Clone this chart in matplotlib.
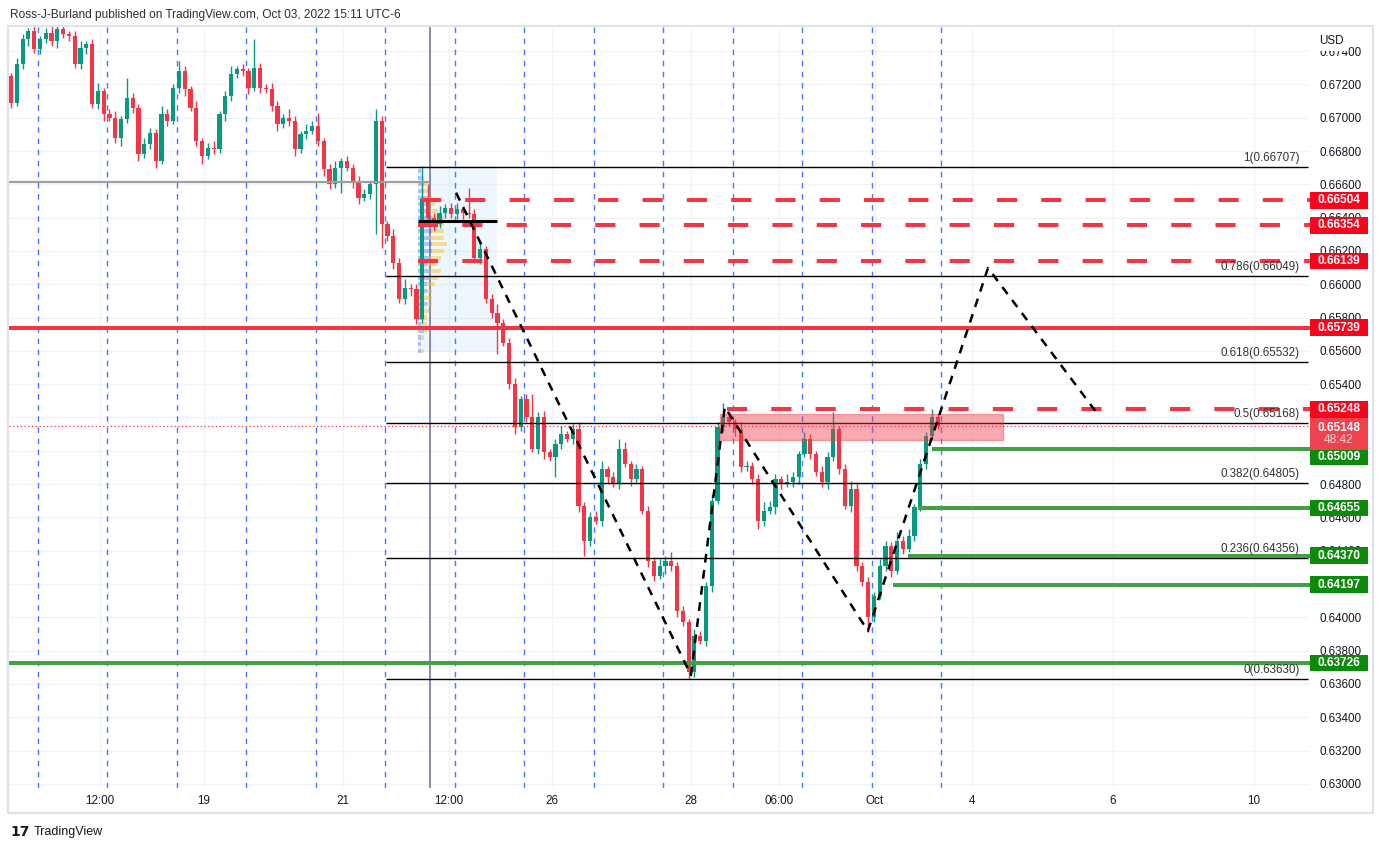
import numpy as np
import matplotlib.pyplot as plt
from matplotlib import transforms
from matplotlib.patches import Rectangle

plt.rcParams['font.family'] = ['Liberation Sans', 'DejaVu Sans']

# AUDUSD, 2h candles (x axis counts hours)
bar_hours = 2
first_open = 0.6725
closes = [
    0.6709, 0.6732, 0.6747, 0.6752, 0.6741, 0.6747, 0.6751, 0.6746, 0.6753, 0.6750,
    0.6749, 0.6732, 0.6742, 0.6744, 0.6708, 0.6716, 0.6702, 0.6700, 0.6688, 0.6699,
    0.6712, 0.6706, 0.6678, 0.6684, 0.6691, 0.6674, 0.6702, 0.6698, 0.6718, 0.6728,
    0.6717, 0.6706, 0.6686, 0.6677, 0.6682, 0.6681, 0.6702, 0.6713, 0.6726, 0.6729,
    0.6728, 0.6718, 0.6730, 0.6718, 0.6717, 0.6707, 0.6696, 0.6700, 0.6698, 0.6681,
    0.6690, 0.6692, 0.6695, 0.6686, 0.6669, 0.6660, 0.6670, 0.6674, 0.6670, 0.6661,
    0.6652, 0.6654, 0.6660, 0.6698, 0.6636, 0.6629, 0.6613, 0.6591, 0.6598, 0.6597,
    0.6579, 0.6651, 0.6640, 0.6636, 0.6643, 0.6646, 0.6642, 0.6645, 0.6643, 0.6642,
    0.6616, 0.6621, 0.6591, 0.6583, 0.6577, 0.6565, 0.6540, 0.6514, 0.6531, 0.6520,
    0.6501, 0.6520, 0.6499, 0.6496, 0.6504, 0.6510, 0.6507, 0.6513, 0.6467, 0.6446,
    0.6460, 0.6458, 0.6489, 0.6484, 0.6480, 0.6501, 0.6492, 0.6483, 0.6489, 0.6464,
    0.6434, 0.6425, 0.6431, 0.6434, 0.6431, 0.6404, 0.6397, 0.6367, 0.6389, 0.6386,
    0.6419, 0.6470, 0.6514, 0.6520, 0.6517, 0.6513, 0.6490, 0.6491, 0.6483, 0.6458,
    0.6464, 0.6466, 0.6483, 0.6480, 0.6481, 0.6484, 0.6498, 0.6507, 0.6498, 0.6487,
    0.6481, 0.6496, 0.6513, 0.6489, 0.6467, 0.6477, 0.6431, 0.6421, 0.6400, 0.6413,
    0.6431, 0.6443, 0.6428, 0.6446, 0.6441, 0.6449, 0.6466, 0.6492, 0.6509, 0.6520,
    0.65148,
]
# wick lengths beyond the body, in pips
wick_up = [
    2, 4, 3, 2, 3, 2, 3, 4, 2, 3,
    2, 3, 4, 2, 3, 5, 2, 3, 4, 2,
    12, 3, 2, 4, 3, 2, 5, 3, 2, 6,
    3, 2, 4, 2, 3, 4, 2, 3, 5, 2,
    3, 2, 17, 3, 2, 4, 3, 2, 5, 3,
    2, 4, 3, 8, 2, 3, 4, 2, 3, 2,
    4, 3, 2, 7, 3, 2, 4, 3, 5, 2,
    3, 20, 9, 3, 4, 2, 3, 4, 2, 15,
    3, 4, 2, 3, 5, 2, 3, 4, 2, 3,
    14, 3, 4, 2, 3, 5, 2, 3, 4, 2,
    3, 4, 5, 2, 3, 6, 4, 2, 3, 2,
    3, 2, 4, 3, 5, 2, 3, 2, 4, 3,
    2, 4, 3, 9, 3, 2, 4, 3, 2, 3,
    5, 4, 3, 2, 5, 3, 2, 4, 3, 2,
    4, 3, 10, 2, 3, 5, 4, 2, 3, 2,
    4, 3, 2, 5, 3, 4, 2, 3, 2, 5,
    2,
]
wick_dn = [
    3, 2, 3, 4, 2, 3, 2, 3, 4, 2,
    3, 2, 3, 4, 2, 3, 4, 2, 3, 5,
    2, 3, 4, 2, 3, 4, 2, 3, 2, 3,
    4, 2, 3, 5, 2, 3, 2, 4, 3, 2,
    3, 4, 2, 3, 2, 3, 4, 2, 3, 4,
    2, 3, 2, 3, 4, 3, 2, 15, 2, 3,
    4, 2, 3, 30, 14, 3, 4, 2, 3, 4,
    3, 2, 3, 4, 2, 3, 2, 3, 4, 2,
    3, 4, 2, 3, 19, 2, 3, 4, 2, 3,
    2, 3, 4, 2, 12, 3, 2, 3, 4, 9,
    3, 2, 3, 4, 2, 3, 2, 4, 3, 2,
    4, 3, 2, 5, 3, 4, 2, 4, 3, 2,
    3, 4, 2, 3, 2, 4, 3, 2, 3, 5,
    3, 2, 4, 3, 2, 3, 4, 2, 3, 2,
    3, 4, 2, 3, 2, 4, 3, 2, 9, 3,
    2, 3, 4, 2, 3, 2, 3, 2, 3, 2,
    2,
]

# time axis (hour index)
tick_hours = [30.7, 66.6, 114.6, 151.2, 186.8, 234.8, 265.2, 298.3, 331.8, 380.5, 429.2]
tick_labels = ['12:00', '19', '21', '12:00', '26', '28', '06:00', 'Oct', '4', '6', '10']
session_hours = [9.3 + 24 * k for k in range(14)]
marker_hour = 144.7

# drawings
red_dashed = [0.66504, 0.66354, 0.66139, 0.65248]
red_dashed_from = [141.6, 140.5, 140.5, 247.2]
red_solid = 0.65739
green_solid = 0.63726
green_short = [0.65009, 0.64655, 0.64370, 0.64197]
green_short_from = [318.0, 313.2, 309.7, 304.6]
gray_level = 0.66613
poc_level = 0.66381
profile_hours = (140.5, 167.8)
profile_prices = (0.65593, 0.66708)
vp_up = [1, 1, 1, 2, 1, 2, 2, 3, 2, 3, 3, 4, 4, 3, 4, 5, 5, 4, 5, 4, 5, 4, 3, 3, 2, 2, 1, 1]
vp_dn = [1, 0, 1, 1, 2, 1, 2, 2, 3, 2, 3, 3, 4, 4, 4, 4, 5, 5, 4, 5, 4, 3, 3, 2, 2, 1, 1, 0]
vp_prices = [0.6560 + 0.0004 * k for k in range(len(vp_up))]
zone_hours = (244.8, 342.5)
zone_prices = (0.65065, 0.65222)
fib_ratios = ['1', '0.786', '0.618', '0.5', '0.382', '0.236', '0']
fib_prices = [0.66707, 0.66049, 0.65532, 0.65168, 0.64805, 0.64356, 0.63630]
fib_from = 129.5
zigzag_hours = [153.7, 234.8, 246.5, 295.9, 337.4, 375.0]
zigzag_prices = [0.66550, 0.63653, 0.65263, 0.63918, 0.66098, 0.65227]
last_price = 0.65148
countdown = '48:42'

RED = '#f23645'
GREEN_LINE = '#43a047'
RED_BOX = '#f7051c'
GREEN_BOX = '#0b8a0b'
UP = '#089981'
DN = '#f23645'
TXT = '#131722'

W, H = 1383, 850
fig = plt.figure(figsize=(W / 100, H / 100), dpi=100)
ax = fig.add_axes([9 / W, 62 / H, 1301 / W, 761 / H])
xmin, xmax = -0.7, 448.6
ymin, ymax = 0.62975, 0.67545
px = (ymax - ymin) / 761  # price per pixel
ax.set_xlim(xmin, xmax)
ax.set_ylim(ymin, ymax)
for s in ax.spines.values():
    s.set_visible(False)

ax.set_yticks(np.round(np.arange(0.630, 0.6745, 0.002), 3))
ax.set_yticklabels([f'{v:.5f}' for v in ax.get_yticks()])
ax.yaxis.tick_right()
ax.tick_params(axis='y', length=0, pad=6.5, labelsize=8.4, labelcolor=TXT)
ax.set_xticks(tick_hours)
ax.set_xticklabels(tick_labels)
ax.tick_params(axis='x', length=0, pad=5, labelsize=8.4, labelcolor=TXT)
ax.grid(True, color='#f0f3fa', lw=1, zorder=0)
ax.set_axisbelow(True)

for h in session_hours:
    ax.axvline(h, color='#2962ff', lw=1, ls=(0, (4, 4)), alpha=0.85, zorder=1)
ax.axvline(marker_hour, color='#6a6d8c', lw=1.1, zorder=1)

# volume profile box
ax.add_patch(Rectangle((profile_hours[0], profile_prices[0]), profile_hours[1] - profile_hours[0],
                       profile_prices[1] - profile_prices[0], fc='#2196f3', alpha=0.07, ec='none', zorder=1))
ax.barh(vp_prices, vp_up, left=profile_hours[0], height=0.00025, color='#2962ff', alpha=0.35, zorder=1.2)
ax.barh(vp_prices, vp_dn, left=profile_hours[0] + np.array(vp_up), height=0.00025,
        color='#fbc02d', alpha=0.5, zorder=1.2)

# candles
closes = np.array(closes)
assert len(closes) == len(wick_up) == len(wick_dn)
opens = np.r_[first_open, closes[:-1]]
highs = np.maximum(opens, closes) + np.array(wick_up) * 1e-4
lows = np.minimum(opens, closes) - np.array(wick_dn) * 1e-4
t = np.arange(len(closes)) * bar_hours
cols = np.where(closes >= opens, UP, DN)
ax.vlines(t, lows, highs, colors=cols, lw=1, zorder=2)
body = np.maximum(np.abs(closes - opens), 0.00003)
ax.bar(t, body, width=1.45, bottom=np.minimum(opens, closes), color=cols, lw=0, zorder=2)

# levels
ax.hlines(gray_level, xmin, marker_hour, color='#9e9e9e', lw=1.6, zorder=3)
ax.hlines(poc_level, profile_hours[0], profile_hours[1], color='black', lw=2.2, zorder=3)
for p in fib_prices:
    ax.hlines(p, fib_from, 447.9, color='black', lw=1, zorder=3)
for r, p in zip(fib_ratios, fib_prices):
    ax.annotate(f'{r}({p:.5f})', (445.1, p), xytext=(0, 2), textcoords='offset points',
                ha='right', va='bottom', fontsize=8.4, color='#333333', zorder=5)
for p, h0 in zip(red_dashed, red_dashed_from):
    ax.hlines(p, h0, xmax, color=RED, lw=2.9, ls=(0, (5, 6)), zorder=3)
ax.axhline(red_solid, color=RED, lw=2.9, zorder=3)
ax.axhline(green_solid, color=GREEN_LINE, lw=2.9, zorder=3)
for p, h0 in zip(green_short, green_short_from):
    ax.hlines(p, h0, xmax, color=GREEN_LINE, lw=2.9, zorder=3)
ax.axhline(last_price, color=RED, lw=0.9, ls=(0, (1, 2)), zorder=3)
ax.add_patch(Rectangle((zone_hours[0], zone_prices[0]), zone_hours[1] - zone_hours[0],
                       zone_prices[1] - zone_prices[0], fc=RED, alpha=0.42, ec=RED, lw=1, zorder=3.5))
ax.plot(zigzag_hours, zigzag_prices, color='black', lw=1.8, ls=(0, (3.5, 3)), zorder=4)

# price scale labels
bt = transforms.blended_transform_factory(ax.transAxes, ax.transData)
bw = 58 / 1301
label_shift = {0.65009: -7.5}


def price_box(p, color, y=None, hpx=16.5):
    yc = p if y is None else y
    ax.add_patch(Rectangle((1.0, yc - hpx / 2 * px), bw, hpx * px, transform=bt, fc=color,
                           ec='none', clip_on=False, zorder=6))
    ax.text(1.0 + bw / 2, yc, f'{p:.5f}', transform=bt, ha='center', va='center', fontsize=8.6,
            fontweight='bold', color='white', clip_on=False, zorder=7)


for p in red_dashed[:3] + [red_solid, red_dashed[3]]:
    price_box(p, RED_BOX)
for p in green_short + [green_solid]:
    price_box(p, GREEN_BOX, y=p + label_shift.get(p, 0) * px)

top = last_price + 8.5 * px
ax.add_patch(Rectangle((1.0, top - 32 * px), bw, 32 * px, transform=bt, fc='#f0414f',
                       ec='none', clip_on=False, zorder=6))
ax.text(1.0 + bw / 2, last_price - 1.5 * px, f'{last_price:.5f}', transform=bt, ha='center',
        va='center', fontsize=8.6, fontweight='bold', color='white', clip_on=False, zorder=7)
ax.text(1.0 + bw / 2, last_price - 14 * px, countdown, transform=bt, ha='center', va='center',
        fontsize=8.6, color='#ffd3d7', clip_on=False, zorder=7)

fig.text(1319 / W, 1 - 41 / H, 'USD', ha='left', va='center', fontsize=8.4, color=TXT,
         bbox=dict(fc='white', ec='none', boxstyle='square,pad=0.3'))

# frame, header, footer
fig.add_artist(Rectangle((8 / W, 1 - 813 / H), 1365 / W, 787 / H, transform=fig.transFigure,
                         fill=False, ec='#e0e3eb', lw=1.5))
fig.text(10 / W, 1 - 15 / H, 'Ross-J-Burland published on TradingView.com, Oct 03, 2022 15:11 UTC-6',
         ha='left', va='center', fontsize=8.6, color='#2a2e39')
fig.text(10 / W, 1 - 832 / H, '17', ha='left', va='center', fontsize=10, fontweight='heavy',
         color='#131722', family='DejaVu Sans')
fig.text(34 / W, 1 - 832 / H, 'TradingView', ha='left', va='center', fontsize=9, color='#131722')

fig.savefig('out.png', dpi=100, facecolor='white')
